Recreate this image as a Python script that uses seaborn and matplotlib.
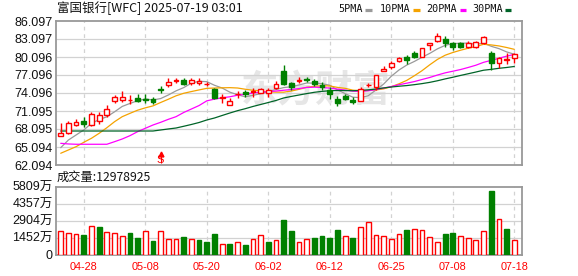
import numpy as np
import pandas as pd
import matplotlib
matplotlib.use("Agg")
import matplotlib.pyplot as plt
from matplotlib.lines import Line2D
import seaborn as sns

# ---------------- data ----------------
dates = ['04-23', '04-24', '04-25', '04-28', '04-29', '04-30', '05-01', '05-02', '05-05', '05-06',
         '05-07', '05-08', '05-09', '05-12', '05-13', '05-14', '05-15', '05-16', '05-19', '05-20',
         '05-21', '05-22', '05-23', '05-27', '05-28', '05-29', '05-30', '06-02', '06-03', '06-04',
         '06-05', '06-06', '06-09', '06-10', '06-11', '06-12', '06-13', '06-16', '06-17', '06-18',
         '06-20', '06-23', '06-24', '06-25', '06-26', '06-27', '06-30', '07-01', '07-02', '07-03',
         '07-07', '07-08', '07-09', '07-10', '07-11', '07-14', '07-15', '07-16', '07-17', '07-18']

open_ = [67.01, 67.38, 68.71, 69.48, 68.71, 69.35, 70.38, 72.68, 72.98, 72.85,
         73.26, 73.10, 73.05, 74.76, 75.43, 76.10, 76.21, 75.71, 75.71, 75.55,
         74.76, 73.18, 72.10, 73.85, 74.26, 74.18, 74.15, 74.15, 74.88, 77.76,
         75.71, 76.15, 76.48, 76.15, 75.43, 74.55, 73.05, 73.60, 72.98, 72.76,
         75.38, 75.10, 77.81, 78.35, 79.46, 80.15, 80.71, 80.15, 82.05, 82.81,
         83.05, 82.38, 82.35, 81.76, 81.81, 82.35, 80.76, 79.05, 79.60, 79.88]

close = [67.46, 69.05, 69.26, 68.93, 70.55, 70.51, 71.43, 73.38, 73.43, 73.01,
         72.76, 72.93, 72.55, 74.60, 75.98, 76.21, 75.65, 76.26, 76.15, 75.65,
         73.21, 73.35, 72.81, 74.01, 73.93, 74.43, 74.71, 74.65, 75.65, 75.55,
         75.15, 76.20, 76.26, 75.55, 75.05, 73.88, 72.35, 73.10, 72.60, 74.68,
         75.48, 77.10, 78.05, 79.15, 79.88, 79.55, 80.15, 81.55, 82.38, 83.65,
         82.43, 81.68, 81.81, 82.51, 82.55, 83.48, 79.05, 79.88, 79.76, 80.60]

high = [69.10, 69.43, 69.81, 70.05, 70.98, 70.98, 72.10, 73.76, 74.43, 73.76,
        73.88, 73.88, 73.43, 75.26, 76.65, 76.55, 76.60, 76.55, 76.55, 75.93,
        74.88, 73.88, 73.31, 74.43, 74.60, 74.88, 74.98, 74.88, 76.05, 78.76,
        75.88, 76.71, 76.81, 76.43, 75.88, 75.15, 73.60, 73.93, 73.38, 75.05,
        75.81, 77.10, 78.65, 79.51, 80.05, 80.43, 81.15, 81.55, 82.38, 84.15,
        83.60, 82.65, 82.65, 82.81, 82.81, 83.68, 81.15, 80.05, 80.71, 80.71]

low = [66.98, 67.21, 68.60, 68.43, 68.60, 68.93, 70.10, 72.51, 72.60, 72.21,
       72.55, 72.38, 72.21, 74.15, 75.15, 75.71, 75.43, 75.48, 75.48, 75.32,
       73.05, 72.38, 72.05, 73.21, 73.48, 73.38, 74.05, 73.38, 74.71, 75.43,
       74.60, 75.81, 75.98, 75.26, 74.60, 73.15, 71.93, 72.93, 72.18, 72.71,
       75.05, 74.60, 77.81, 78.10, 79.26, 78.88, 79.98, 80.15, 81.26, 82.65,
       81.81, 81.18, 81.55, 81.55, 81.55, 82.26, 77.93, 78.31, 79.01, 79.05]

# volume in 万 (10k shares)
volume = [2050, 1879, 1793, 1708, 2477, 2391, 1964, 1879, 1623, 1819,
          1452, 2050, 1136, 2050, 1332, 1332, 1537, 1332, 1281, 1050,
          1793, 939, 939, 1110, 854, 1332, 1708, 1110, 1247, 2989,
          2050, 1110, 1332, 1452, 1623, 1452, 2135, 1623, 1452, 2391,
          2818, 1708, 1623, 1366, 1793, 2135, 2220, 2135, 1537, 1110,
          1793, 1879, 1623, 1452, 1281, 2050, 5466, 3074, 2220, 1297.8925]

# moving-average values at the start of the window (history before the window)
ma5_head = [64.98, 66.26, 67.10, 67.93]
ma10_head = [64.05, 64.60, 65.15, 65.88, 66.55, 67.38, 68.31, 69.31, 70.15]
ma20_head = [65.71, 65.60, 65.55, 65.55, 65.55, 65.55, 65.55, 65.98, 66.43, 66.98,
             67.65, 68.21, 68.76, 69.21, 69.71, 70.15, 70.85, 71.43, 72.01]
ma30_head = [67.76, 67.76, 67.76, 67.76, 67.76, 67.76, 67.76, 67.76, 67.76, 67.76,
             67.76, 67.76, 67.76, 67.93, 68.10, 68.26, 68.55, 68.85, 69.18, 69.60,
             69.93, 70.35, 70.76, 71.15, 71.48, 71.85, 72.18, 72.51, 72.85]

price_ticks = [86.097, 83.097, 80.096, 77.096, 74.096, 71.095, 68.095, 65.094, 62.094]
vol_ticks = [0, 1452, 2904, 4357, 5809]
date_ticks = ['04-28', '05-08', '05-20', '06-02', '06-12', '06-25', '07-08', '07-18']
ma_names = ['5PMA', '10PMA', '20PMA', '30PMA']
title = '富国银行[WFC] 2025-07-19 03:01'
vol_label = '成交量:12978925'
signal_date = '05-12'
signal_text = 'S'
watermark = '东方财富'

# ---------------- style ----------------
sns.set_theme(style="white")
plt.rcParams['font.family'] = ['Liberation Sans', 'Noto Sans CJK SC', 'DejaVu Sans']
plt.rcParams['axes.unicode_minus'] = False

RED = '#ff0000'
GREEN = '#008000'
GRID = '#d2d2d2'
SPINE = '#999999'
ma_colors = ['#9a9a9a', '#f5a300', '#ff00ff', '#006428']

W, Hpx = 578, 276
fig = plt.figure(figsize=(W / 100, Hpx / 100), dpi=100)
fig.patch.set_facecolor('white')

L0, R0 = 55.5, 522.0
ax = fig.add_axes([L0 / W, 1 - 165 / Hpx, (R0 - L0) / W, (165 - 21) / Hpx])
axv = fig.add_axes([L0 / W, 1 - 254.7 / Hpx, (R0 - L0) / W, (254.7 - 186.7) / Hpx])

n = len(dates)
x = np.arange(n)
O = np.array(open_)
C = np.array(close)
Hh = np.array(high)
Ll = np.array(low)
V = np.array(volume)
up = C >= O
prev_close = np.r_[C[0] - 1, C[:-1]]
vol_up = C >= prev_close

# moving averages
df = pd.DataFrame({'x': x, 'close': C})
def moving_average(window, head):
    s = df['close'].rolling(window).mean().to_numpy()
    s[:len(head)] = head
    return s

mas = [moving_average(5, ma5_head), moving_average(10, ma10_head),
       moving_average(20, ma20_head), moving_average(30, ma30_head)]

tick_idx = [dates.index(d) for d in date_ticks]

for a in (ax, axv):
    a.set_facecolor('white')
    a.set_xlim(-0.68, n + 0.0)
    for s in a.spines.values():
        s.set_color(SPINE)
        s.set_linewidth(1.3)
        s.set_visible(True)
    a.tick_params(length=0, pad=2)
    for t in tick_idx:
        a.axvline(t, color=GRID, lw=0.9, ls=(0, (3, 3)), zorder=0)

# watermark
ax.text(33.2, 74.4, watermark, fontsize=27, color='#e6e6e6', ha='center', va='center',
        family=['Noto Sans CJK SC'], fontweight='bold', zorder=0.5, style='italic')

# price grid
ax.set_ylim(price_ticks[-1], price_ticks[0])
ax.set_yticks(price_ticks)
ax.set_yticklabels([f'{v:.3f}' for v in price_ticks], fontsize=9, color='#111111')
for v in price_ticks[1:-1]:
    ax.axhline(v, color=GRID, lw=0.9, zorder=0.6)
ax.set_xticks([])

# MA lines
for m, col in zip(mas, ma_colors):
    sns.lineplot(x=x, y=m, ax=ax, color=col, lw=0.9, zorder=3, legend=False)

# candles
for i in range(n):
    col = RED if up[i] else GREEN
    ax.vlines(i, Ll[i], Hh[i], color=col, lw=1.0, zorder=4)
    bot = min(O[i], C[i])
    h = max(abs(C[i] - O[i]), 0.03)
    ax.bar(i, h, bottom=bot, width=0.62, facecolor='white' if up[i] else GREEN,
           edgecolor=col, linewidth=1.0, zorder=5)

# signal marker
si = dates.index(signal_date)
ax.plot([si], [64.0], marker='^', ms=3.5, color=RED, zorder=6)
ax.vlines(si, 62.5, 63.9, color=RED, lw=0.8, zorder=6)
ax.text(si, 62.95, signal_text, color=RED, fontsize=8, ha='center', va='center', zorder=6)

ax.set_xlabel('')
ax.set_ylabel('')

# volume
axv.set_ylim(0, vol_ticks[-1])
axv.set_yticks(vol_ticks)
axv.set_yticklabels([str(v) if v == 0 else f'{v}万' for v in vol_ticks], fontsize=9, color='#111111')
for v in vol_ticks[1:-1]:
    axv.axhline(v, color=GRID, lw=0.9, zorder=0.6)
for i in range(n):
    col = RED if vol_up[i] else GREEN
    axv.bar(i, V[i], width=0.62, facecolor='white' if vol_up[i] else GREEN,
            edgecolor=col, linewidth=1.0, zorder=3)
axv.set_xticks(tick_idx)
axv.set_xticklabels(date_ticks, fontsize=7.8, color=RED)
axv.tick_params(axis='x', pad=5)
axv.set_xlabel('')
axv.set_ylabel('')

# texts
fig.text(57 / W, 1 - 8.5 / Hpx, title, fontsize=9, va='center', ha='left',
         family=['Noto Sans CJK SC', 'DejaVu Sans'], color='#111111')
fig.text(57 / W, 1 - 177 / Hpx, vol_label, fontsize=8.8, va='center', ha='left',
         family=['Noto Sans CJK SC', 'DejaVu Sans'], color='#111111')

# legend
text_x = [338, 380, 426, 472]
dash_x = [(365, 372), (413, 419.5), (460, 466), (505, 511)]
for name, col, tx, (d0, d1) in zip(ma_names, ma_colors, text_x, dash_x):
    fig.text(tx / W, 1 - 8.8 / Hpx, name, fontsize=7.3, va='center', ha='left',
             family=['DejaVu Sans Mono'], color='#111111')
    fig.add_artist(Line2D([d0 / W, d1 / W], [1 - 9.7 / Hpx, 1 - 9.7 / Hpx],
                          transform=fig.transFigure, color=col, lw=2.3, solid_capstyle='butt'))

fig.savefig('out.png', dpi=100, facecolor='white')
